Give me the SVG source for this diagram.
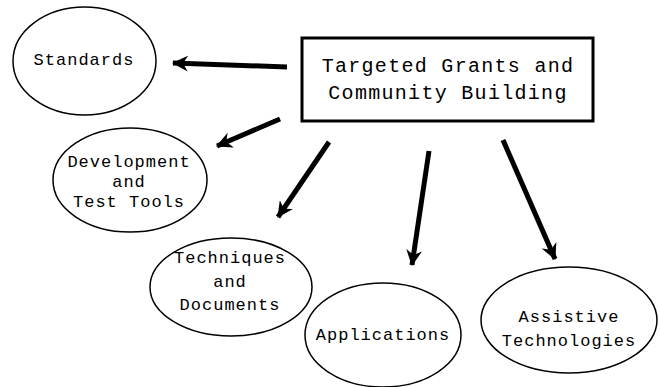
<svg xmlns="http://www.w3.org/2000/svg" width="660" height="387" viewBox="0 0 660 387">
<style>
.n{fill:#fff;stroke:#000;stroke-width:1.5}
.t{font-family:"Liberation Mono","Courier New",monospace;font-size:17px;letter-spacing:1px;text-anchor:middle;fill:#000}
.h{font-size:20px;letter-spacing:1.3px}
.c{stroke:#000;stroke-width:5;fill:none;marker-end:url(#a)}
</style>
<defs>
<marker id="a" viewBox="0 0 16 16" refX="15" refY="8" markerWidth="16" markerHeight="16" markerUnits="userSpaceOnUse" orient="auto">
<path d="M0,0 L16,8 L0,16 L5,8 Z" fill="#000"/>
</marker>
</defs>
<rect width="660" height="387" fill="#fff"/>
<g id="connectors">
<line class="c" x1="287" y1="67" x2="173" y2="63"/>
<line class="c" x1="280" y1="119" x2="217" y2="146"/>
<line class="c" x1="329" y1="142" x2="278" y2="217"/>
<line class="c" x1="429" y1="151" x2="412" y2="265"/>
<line class="c" x1="503" y1="140" x2="555" y2="259"/>
</g>
<g id="hub">
<rect x="302" y="38" width="291" height="83" fill="#fff" stroke="#000" stroke-width="3"/>
<text class="t h" x="448" y="72">Targeted Grants and</text>
<text class="t h" x="448" y="99">Community Building</text>
</g>
<g id="standards">
<ellipse class="n" cx="84.5" cy="61" rx="71.5" ry="54"/>
<text class="t" x="84" y="65">Standards</text>
</g>
<g id="devtools">
<ellipse class="n" cx="130" cy="180" rx="77" ry="52"/>
<text class="t" x="129" y="167">Development</text>
<text class="t" x="129" y="187">and</text>
<text class="t" x="129" y="207">Test Tools</text>
</g>
<g id="techniques">
<ellipse class="n" cx="231" cy="287" rx="81" ry="49"/>
<text class="t" x="230" y="263">Techniques</text>
<text class="t" x="230" y="287">and</text>
<text class="t" x="230" y="310">Documents</text>
</g>
<g id="applications">
<ellipse class="n" cx="383" cy="335" rx="78" ry="52"/>
<text class="t" x="383" y="340">Applications</text>
</g>
<g id="assistive">
<ellipse class="n" cx="569" cy="320" rx="88" ry="53"/>
<text class="t" x="569" y="322">Assistive</text>
<text class="t" x="569" y="346">Technologies</text>
</g>
</svg>
